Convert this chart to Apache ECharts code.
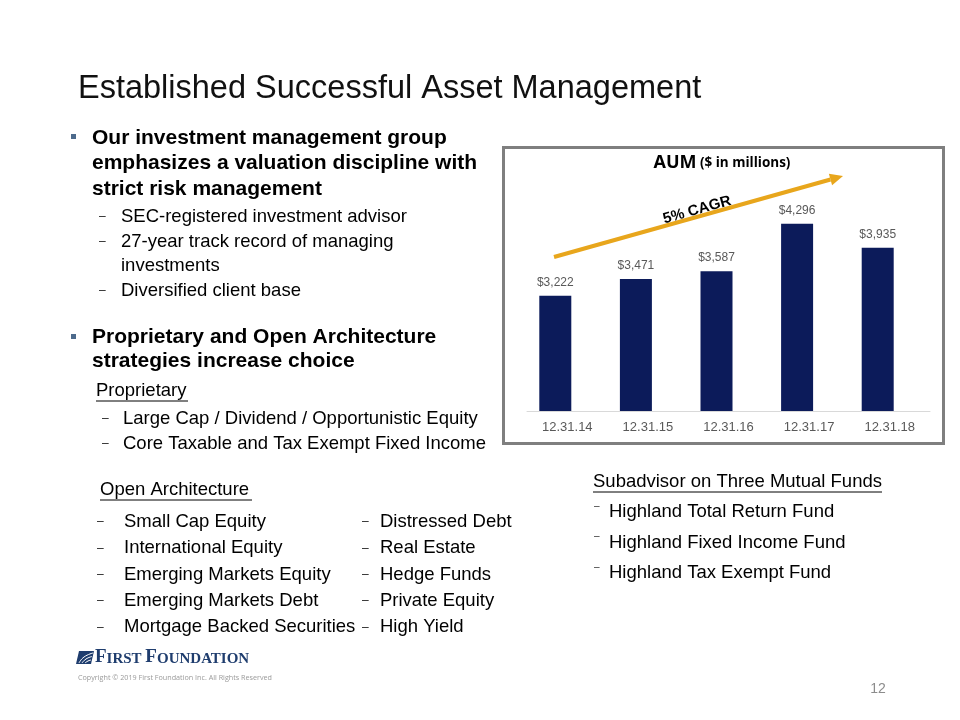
<!DOCTYPE html>
<html>
<head>
<meta charset="utf-8">
<script src="https://cdn.jsdelivr.net/npm/echarts@6/dist/echarts.min.js"></script>
<style>html,body{margin:0;padding:0;background:#fff;}#main{width:960px;height:720px;}</style>
</head>
<body>
<div id="main"></div>
<script>
// ---- data ----
var categories = ['12.31.14', '12.31.15', '12.31.16', '12.31.17', '12.31.18'];
var aumValues = [3222, 3471, 3587, 4296, 3935];
var valueAxisMin = 1500;
var valueAxisMax = 4500;
var chartTitle = 'AUM';
var chartSubtitle = '($ in millions)';
var cagrLabel = '5% CAGR';

var slideTitle = 'Established Successful Asset Management';
var bullet1Lines = ['Our investment management group', 'emphasizes a valuation discipline with', 'strict risk management'];
var bullet1Subs = [['SEC-registered investment advisor'], ['27-year track record of managing', 'investments'], ['Diversified client base']];
var bullet2Lines = ['Proprietary and Open Architecture', 'strategies increase choice'];
var proprietaryHeader = 'Proprietary';
var proprietaryItems = ['Large Cap / Dividend / Opportunistic Equity', 'Core Taxable and Tax Exempt Fixed Income'];
var openHeader = 'Open Architecture';
var openLeft = ['Small Cap Equity', 'International Equity', 'Emerging Markets Equity', 'Emerging Markets Debt', 'Mortgage Backed Securities'];
var openRight = ['Distressed Debt', 'Real Estate', 'Hedge Funds', 'Private Equity', 'High Yield'];
var subHeader = 'Subadvisor on Three Mutual Funds';
var subItems = ['Highland Total Return Fund', 'Highland Fixed Income Fund', 'Highland Tax Exempt Fund'];
var copyright = 'Copyright \u00a9 2019 First Foundation Inc. All Rights Reserved';
var pageNumber = '12';

// ---- build ----
var chart = echarts.init(document.getElementById('main'), null, {renderer: 'canvas'});
var SANS = '"Liberation Sans", Arial, sans-serif';
var BODY = 18.5;
var g = [];
function txt(x, y, s, size, opts) {
  opts = opts || {};
  g.push({type: 'text', x: x, y: y, z: 10, style: {
    text: s, fontFamily: opts.family || SANS, fontSize: size, fontWeight: opts.bold ? 'bold' : 'normal',
    fill: opts.color || '#000', textAlign: opts.align || 'left', textVerticalAlign: 'middle'
  }});
}
function uline(x1, x2, y) {
  g.push({type: 'line', z: 10, shape: {x1: x1, y1: y, x2: x2, y2: y}, style: {stroke: '#000', lineWidth: 1}});
}
function dash(x, y) { txt(x, y, '\u2013', 12, {color: '#222'}); }

// slide title
txt(78, 89, slideTitle, 32.5, {color: '#111'});

// bullet 1
g.push({type: 'rect', z: 10, shape: {x: 71, y: 134, width: 5, height: 5}, style: {fill: '#4d6a8c'}});
bullet1Lines.forEach(function (s, i) { txt(92, 138 + i * 25.5, s, 21, {bold: true}); });
var sy = 217;
bullet1Subs.forEach(function (arr) {
  dash(99, sy);
  arr.forEach(function (s, j) { txt(121, sy + j * 24.5, s, BODY); });
  sy += arr.length * 24.5;
});

// bullet 2
g.push({type: 'rect', z: 10, shape: {x: 71, y: 334, width: 5, height: 5}, style: {fill: '#4d6a8c'}});
bullet2Lines.forEach(function (s, i) { txt(92, 337 + i * 24.5, s, 21, {bold: true}); });
txt(96, 391, proprietaryHeader, BODY);
uline(96, 188, 401);
proprietaryItems.forEach(function (s, i) { dash(102, 419 + i * 25); txt(123, 419 + i * 25, s, BODY); });

// open architecture
txt(100, 490, openHeader, BODY);
uline(100, 252, 500);
openLeft.forEach(function (s, i) { dash(97, 522 + i * 26.3); txt(124, 522 + i * 26.3, s, BODY); });
openRight.forEach(function (s, i) { dash(362, 522 + i * 26.3); txt(380, 522 + i * 26.3, s, BODY); });

// subadvisor
txt(593, 482, subHeader, BODY);
uline(593, 882, 492);
subItems.forEach(function (s, i) {
  txt(594, 506 + i * 30.5, '\u2013', 10, {color: '#333'});
  txt(609, 512 + i * 30.5, s, BODY);
});

// chart frame
g.push({type: 'rect', z: 0, shape: {x: 503.5, y: 147.5, width: 440, height: 296}, style: {fill: '#fff', stroke: '#7f7f7f', lineWidth: 3}});
// chart title
g.push({type: 'text', z: 10, x: 722, y: 163, style: {
  text: '{a|' + chartTitle + '} {b|' + chartSubtitle + '}', textAlign: 'center', textVerticalAlign: 'middle',
  rich: {a: {fontFamily: '"Open Sans", sans-serif', fontWeight: 'bold', fontSize: 18, fill: '#000'},
         b: {fontFamily: '"Open Sans", sans-serif', fontWeight: 'bold', fontSize: 13.5, fill: '#000'}}
}});
// CAGR arrow
var ax1 = 554, ay1 = 257, ax2 = 843, ay2 = 176;
var ang = Math.atan2(ay2 - ay1, ax2 - ax1);
var hl = 13, hw = 6;
var bx = ax2 - hl * Math.cos(ang), by = ay2 - hl * Math.sin(ang);
g.push({type: 'line', z: 5, shape: {x1: ax1, y1: ay1, x2: bx, y2: by}, style: {stroke: '#E8A61C', lineWidth: 4}});
g.push({type: 'polygon', z: 5, shape: {points: [[ax2, ay2], [bx - hw * Math.sin(ang), by + hw * Math.cos(ang)], [bx + hw * Math.sin(ang), by - hw * Math.cos(ang)]]}, style: {fill: '#E8A61C'}});
g.push({type: 'text', z: 10, x: 697, y: 210, rotation: -ang, style: {
  text: cagrLabel, fontFamily: SANS, fontWeight: 'bold', fontSize: 15, fill: '#000', textAlign: 'center', textVerticalAlign: 'middle'
}});

// logo
g.push({type: 'polygon', z: 10, shape: {points: [[79, 651], [94, 651], [91, 664], [76, 664]]}, style: {fill: '#1f3d6e'}});
g.push({type: 'polyline', z: 11, shape: {points: [[79, 663], [84, 657], [93, 653]], smooth: 0.5}, style: {stroke: '#fff', lineWidth: 1, fill: null}});
g.push({type: 'polyline', z: 11, shape: {points: [[82, 663], [86, 659], [92, 656.5]], smooth: 0.5}, style: {stroke: '#fff', lineWidth: 1, fill: null}});
g.push({type: 'polyline', z: 11, shape: {points: [[85, 663], [88, 661], [91, 660]], smooth: 0.5}, style: {stroke: '#fff', lineWidth: 1, fill: null}});
g.push({type: 'text', z: 10, x: 95, y: 657, style: {
  text: '{a|F}{b|IRST }{a|F}{b|OUNDATION}', textAlign: 'left', textVerticalAlign: 'middle',
  rich: {a: {fontFamily: '"Liberation Serif", serif', fontWeight: 'bold', fontSize: 19, fill: '#1f3d6e', verticalAlign: 'bottom'},
         b: {fontFamily: '"Liberation Serif", serif', fontWeight: 'bold', fontSize: 15, fill: '#1f3d6e', verticalAlign: 'bottom'}}
}});
txt(78, 678, copyright, 7.2, {color: '#9a9a9a', family: '"Open Sans", sans-serif'});
txt(878, 689, pageNumber, 14, {color: '#8c8c8c', align: 'center'});

var option = {
  animation: false,
  backgroundColor: '#fff',
  grid: [
    {left: 515, width: 403, top: 210, height: 201},
    {left: 527, width: 403, top: 210, height: 201}
  ],
  xAxis: [
    {type: 'category', gridIndex: 0, data: categories, show: false},
    {type: 'category', gridIndex: 1, data: categories,
     axisLine: {lineStyle: {color: '#d9d9d9', width: 1}}, axisTick: {show: false},
     axisLabel: {color: '#595959', fontSize: 13, fontFamily: SANS, margin: 10}}
  ],
  yAxis: [
    {type: 'value', gridIndex: 0, min: valueAxisMin, max: valueAxisMax, show: false},
    {type: 'value', gridIndex: 1, min: valueAxisMin, max: valueAxisMax, show: false}
  ],
  series: [{
    type: 'bar', xAxisIndex: 0, yAxisIndex: 0, data: aumValues, barWidth: 32,
    itemStyle: {color: '#0c1b5a'},
    label: {show: true, position: 'top', distance: 7, color: '#595959', fontSize: 12, fontFamily: SANS,
      formatter: function (p) { return '$' + p.value.toLocaleString('en-US'); }}
  }],
  graphic: g
};
chart.setOption(option);
</script>
</body>
</html>
